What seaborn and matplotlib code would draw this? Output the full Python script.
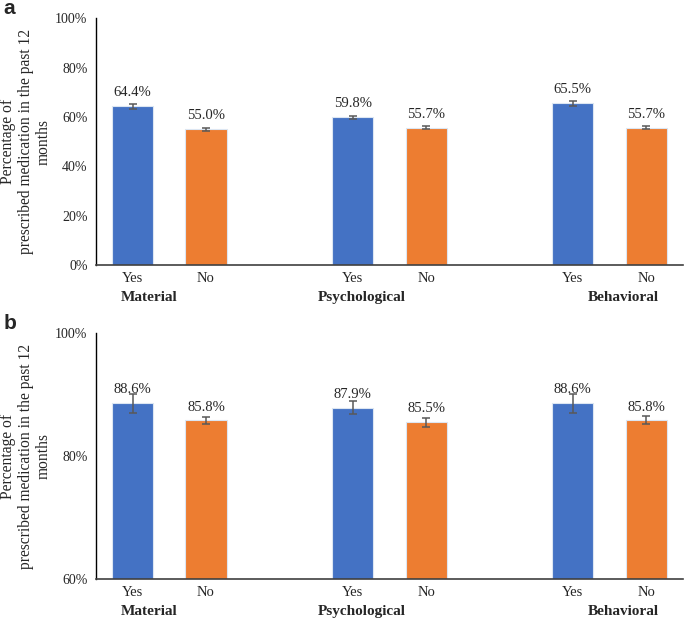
import pandas as pd
import matplotlib.pyplot as plt
import matplotlib.transforms as mtransforms
import seaborn as sns

# data
groups = ["Material", "Psychological", "Behavioral"]
answers = ["Yes", "No"]
values_a = [64.4, 55.0, 59.8, 55.7, 65.5, 55.7]
errors_a = [1.0, 0.5, 0.7, 0.6, 1.1, 0.5]
values_b = [88.6, 85.8, 87.9, 85.5, 88.6, 85.8]
errors_b = [1.5, 0.6, 1.05, 0.7, 1.5, 0.65]
yticks_a = [0, 20, 40, 60, 80, 100]
yticks_b = [60, 80, 100]

colors = {"Yes": "#4472C4", "No": "#ED7D31"}
serif = ["Liberation Serif", "DejaVu Serif"]

sns.set_style("white")
plt.rcParams["font.family"] = serif


def make_df(values, errors):
    rows = []
    for gi, g in enumerate(groups):
        for ai, a in enumerate(answers):
            k = gi * 2 + ai
            rows.append({"slot": f"{g}-{a}", "group": g, "answer": a,
                         "value": values[k], "err": errors[k]})
    return pd.DataFrame(rows)


# category order with empty slots between groups
order = []
for gi, g in enumerate(groups):
    order += [f"{g}-{a}" for a in answers]
    if gi < len(groups) - 1:
        order.append(f"gap{gi}")

group_label_x = [0.23, 3.13, 6.69]


def draw_panel(ax, df, ylim, yticks, letter):
    sns.barplot(data=df, x="slot", y="value", hue="answer", order=order,
                hue_order=answers, palette=colors, dodge=False, width=0.56,
                saturation=1, edgecolor="#dce6f2", linewidth=0.8,
                legend=False, ax=ax)
    xs = [order.index(s) for s in df["slot"]]
    ax.errorbar(xs, df["value"], yerr=df["err"], fmt="none",
                ecolor="#595959", elinewidth=1.1, capsize=3, capthick=1.1)
    for x, v in zip(xs, df["value"]):
        ax.annotate(f"{v:.1f}%", (x, v), xytext=(0, 5),
                    textcoords="offset points", ha="center", va="bottom",
                    fontsize=10.5, family=serif)

    ax.set_xlim(-0.5, 7.5)
    ax.set_ylim(*ylim)
    ax.set_yticks(yticks)
    ax.set_yticklabels([f"{t}%" for t in yticks], fontsize=10)
    ax.set_xticks(xs)
    ax.set_xticklabels(df["answer"], fontsize=10.5)
    ax.tick_params(axis="y", length=0, pad=6)
    ax.tick_params(axis="x", length=0, pad=5)
    ax.set_xlabel("")
    ax.set_ylabel("Percentage of\nprescribed medication in the past 12\nmonths",
                  fontsize=11.2, linespacing=1.15)
    ax.yaxis.set_label_coords(-0.075, 0.5)
    sns.despine(ax=ax)
    ax.spines["left"].set_color("black")
    ax.spines["bottom"].set_color("#404040")
    ax.spines["left"].set_linewidth(1.0)
    ax.spines["bottom"].set_linewidth(1.2)

    trans = mtransforms.blended_transform_factory(ax.transData, ax.transAxes)
    for gx, g in zip(group_label_x, groups):
        ax.text(gx, -0.105, g, transform=trans, ha="center", va="top",
                fontsize=11, fontweight="bold", family=serif)

    ax.text(-0.158, 1.0, letter, transform=ax.transAxes, fontsize=15,
            fontweight="bold", family=["Liberation Sans", "DejaVu Sans"],
            ha="left", va="bottom")


fig = plt.figure(figsize=(6.85, 6.24), dpi=100)
ax_a = fig.add_axes([0.140, 0.575, 0.857, 0.396])
ax_b = fig.add_axes([0.140, 0.072, 0.857, 0.394])

draw_panel(ax_a, make_df(values_a, errors_a), (0, 100), yticks_a, "a")
draw_panel(ax_b, make_df(values_b, errors_b), (60, 100), yticks_b, "b")

fig.savefig("out.png", dpi=100)
